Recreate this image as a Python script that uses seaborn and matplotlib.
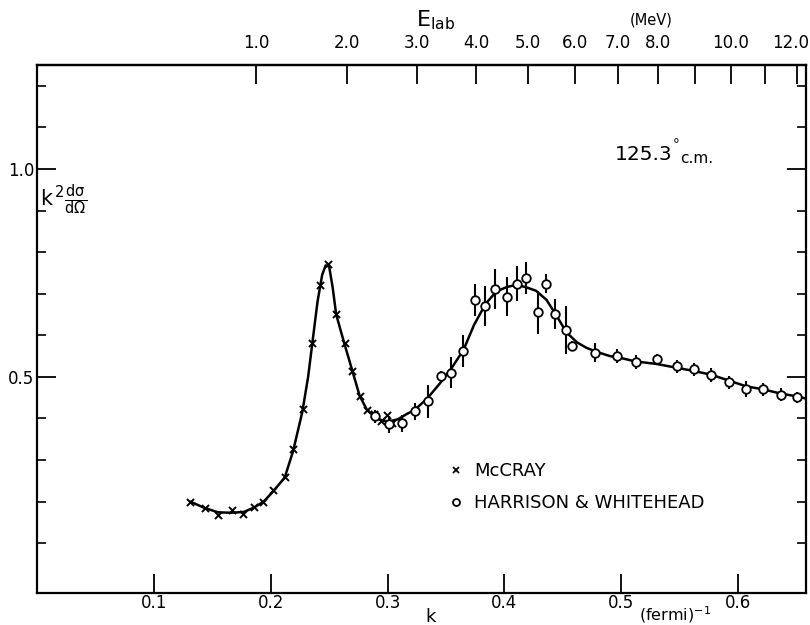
import numpy as np
import pandas as pd
import matplotlib
matplotlib.use("Agg")
import matplotlib.pyplot as plt
import matplotlib.transforms as mtransforms
import seaborn as sns
from matplotlib.lines import Line2D

# McCray points (x markers)
mccray_k = [0.1308, 0.1434, 0.1551, 0.1665, 0.1765, 0.1857, 0.1937, 0.2022, 0.2119, 0.2188,
            0.2273, 0.2350, 0.2425, 0.2488, 0.2559, 0.2633, 0.2697, 0.2760, 0.2820, 0.2880,
            0.2945, 0.2996, 0.3040]
mccray_v = [0.200, 0.184, 0.168, 0.179, 0.171, 0.187, 0.200, 0.227, 0.260, 0.327,
            0.422, 0.582, 0.720, 0.771, 0.650, 0.581, 0.515, 0.454, 0.421, 0.411,
            0.393, 0.409, 0.389]

# Harrison & Whitehead points (open circles with error bars)
hw_k = [0.2893, 0.3010, 0.3122, 0.3233, 0.3345, 0.3453, 0.3542, 0.3645, 0.3745, 0.3836,
        0.3922, 0.4025, 0.4105, 0.4182, 0.4284, 0.4359, 0.4433, 0.4530, 0.4576, 0.4773,
        0.4964, 0.5124, 0.5302, 0.5473, 0.5621, 0.5770, 0.5924, 0.6064, 0.6210, 0.6364,
        0.6507]
hw_v = [0.405, 0.386, 0.388, 0.417, 0.441, 0.503, 0.510, 0.562, 0.685, 0.671,
        0.711, 0.693, 0.724, 0.737, 0.655, 0.724, 0.651, 0.613, 0.573, 0.558,
        0.550, 0.536, 0.542, 0.525, 0.518, 0.504, 0.487, 0.471, 0.470, 0.457,
        0.451]
hw_err = [0.016, 0.020, 0.020, 0.021, 0.039, 0.012, 0.038, 0.038, 0.039, 0.048,
          0.049, 0.047, 0.042, 0.038, 0.052, 0.023, 0.036, 0.058, 0.012, 0.023,
          0.017, 0.017, 0.014, 0.016, 0.016, 0.016, 0.016, 0.020, 0.016, 0.015,
          0.013]

# fitted curve
curve_k = [0.131, 0.143, 0.155, 0.166, 0.177, 0.186, 0.194, 0.202, 0.212, 0.219,
           0.227, 0.232, 0.236, 0.240, 0.244, 0.247, 0.250, 0.253, 0.256, 0.263,
           0.270, 0.276, 0.282, 0.289, 0.296, 0.302, 0.309, 0.316, 0.323, 0.334,
           0.345, 0.355, 0.365, 0.374, 0.384, 0.393, 0.402, 0.410, 0.418, 0.427,
           0.436, 0.445, 0.453, 0.462, 0.470, 0.478, 0.490, 0.500, 0.512, 0.530,
           0.547, 0.562, 0.577, 0.592, 0.607, 0.621, 0.636, 0.650, 0.662]
curve_v = [0.200, 0.185, 0.174, 0.173, 0.175, 0.186, 0.200, 0.224, 0.258, 0.320,
           0.415, 0.500, 0.590, 0.680, 0.745, 0.768, 0.765, 0.715, 0.650, 0.580,
           0.513, 0.455, 0.422, 0.403, 0.394, 0.393, 0.398, 0.410, 0.420, 0.448,
           0.485, 0.522, 0.565, 0.625, 0.676, 0.705, 0.716, 0.721, 0.716, 0.707,
           0.685, 0.645, 0.607, 0.583, 0.570, 0.561, 0.550, 0.545, 0.537, 0.531,
           0.522, 0.514, 0.505, 0.491, 0.477, 0.470, 0.460, 0.453, 0.445]

k_ticks = [0.1, 0.2, 0.3, 0.4, 0.5, 0.6]
k_ticklabels = ["0.1", "0.2", "0.3", "0.4", "0.5", "0.6"]
y_major = [0.5, 1.0]
y_ticklabels = ["0.5", "1.0"]
y_minor = [0.1, 0.2, 0.3, 0.4, 0.6, 0.7, 0.8, 0.9, 1.1, 1.2]
e_ticks = [1, 2, 3, 4, 5, 6, 7, 8, 9, 10, 11, 12]
e_ticklabels = ["1.0", "2.0", "3.0", "4.0", "5.0", "6.0", "7.0", "8.0", "", "10.0", "", "12.0"]
K_PER_SQRT_E = 0.1878

sns.set_style("ticks")
plt.rcParams['font.family'] = ['DejaVu Sans']
plt.rcParams.update({"text.color": "black", "axes.labelcolor": "black", "axes.edgecolor": "black",
                     "xtick.color": "black", "ytick.color": "black"})

fig = plt.figure(figsize=(8.1, 6.25), dpi=100)
ax = fig.add_axes([0.0457, 0.0512, 0.9493, 0.8448])

sns.lineplot(x=curve_k, y=curve_v, sort=False, color="black", linewidth=1.8, ax=ax)
ax.errorbar(hw_k, hw_v, yerr=hw_err, fmt="none", ecolor="black", elinewidth=1.5, capsize=0)
sns.scatterplot(x=mccray_k, y=mccray_v, marker="x", color="black", s=26, linewidth=1.4, ax=ax, zorder=4)
sns.scatterplot(x=hw_k, y=hw_v, marker="o", facecolor="white", edgecolor="black", s=38,
                linewidth=1.3, ax=ax, zorder=5)

ax.set_xlim(0, 0.658)
ax.set_ylim(-0.02, 1.25)
ax.set_xticks(k_ticks)
ax.set_xticklabels(k_ticklabels)
ax.set_yticks(y_major)
ax.set_yticklabels(y_ticklabels)
ax.set_yticks(y_minor, minor=True)
ax.tick_params(axis="x", which="major", direction="in", length=14, width=1.3, labelsize=12, pad=1)
ax.tick_params(axis="y", which="major", direction="in", length=14, width=1.3, labelsize=12, pad=2,
               right=True)
ax.tick_params(axis="y", which="minor", direction="in", length=6.5, width=1.2, right=True)
ax.set_xlabel("")
ax.set_ylabel("")
for sp in ax.spines.values():
    sp.set_linewidth(1.6)

sec = ax.secondary_xaxis("top", functions=(lambda k: (np.maximum(k, 0) / K_PER_SQRT_E) ** 2,
                                            lambda e: K_PER_SQRT_E * np.sqrt(np.maximum(e, 0))))
sec.set_xticks(e_ticks)
sec.set_xticklabels(e_ticklabels)
sec.tick_params(direction="in", length=14, width=1.3, labelsize=12, pad=9)
sec.spines["top"].set_linewidth(1.6)

fig.text(0.538, 0.968, r"E$_{\rm lab}$", fontsize=16, ha="center", va="center")
fig.text(0.804, 0.968, "(MeV)", fontsize=10.5, ha="center", va="center")
fig.text(0.531, 0.013, "k", fontsize=13, ha="center", va="center")
fig.text(0.834, 0.017, r"(fermi)$^{-1}$", fontsize=11.5, ha="center", va="center")

ax.text(0.004, 0.745, r"$\mathregular{k^{\,2}}\frac{\mathregular{d\sigma}}{\mathregular{d\Omega}}$",
        transform=ax.transAxes, fontsize=15, ha="left", va="center")
ax.text(0.752, 0.830, "125.3", transform=ax.transAxes, fontsize=14.5, ha="left", va="center")
ax.text(0.825, 0.860, r"$\circ$", transform=ax.transAxes, fontsize=10, ha="left", va="center")
ax.text(0.836, 0.822, "c.m.", transform=ax.transAxes, fontsize=11, ha="left", va="center")

handles = [Line2D([], [], marker="x", color="black", linestyle="none", markersize=5, markeredgewidth=1.3),
           Line2D([], [], marker="o", markerfacecolor="white", markeredgecolor="black",
                  linestyle="none", markersize=5, markeredgewidth=1.3)]
ax.legend(handles, ["McCRAY", "HARRISON & WHITEHEAD"], loc="upper left", bbox_to_anchor=(0.512, 0.278),
          frameon=False, fontsize=13, handletextpad=0.5, labelspacing=0.75, handlelength=1.0)

# nudge the last top label ("12.0") so it stays inside the figure
fig.canvas.draw()
last = sec.xaxis.get_majorticklabels()[-1]
last.set_transform(last.get_transform() + mtransforms.ScaledTranslation(-5 / 72, 0, fig.dpi_scale_trans))

fig.savefig("out.png", dpi=100)
